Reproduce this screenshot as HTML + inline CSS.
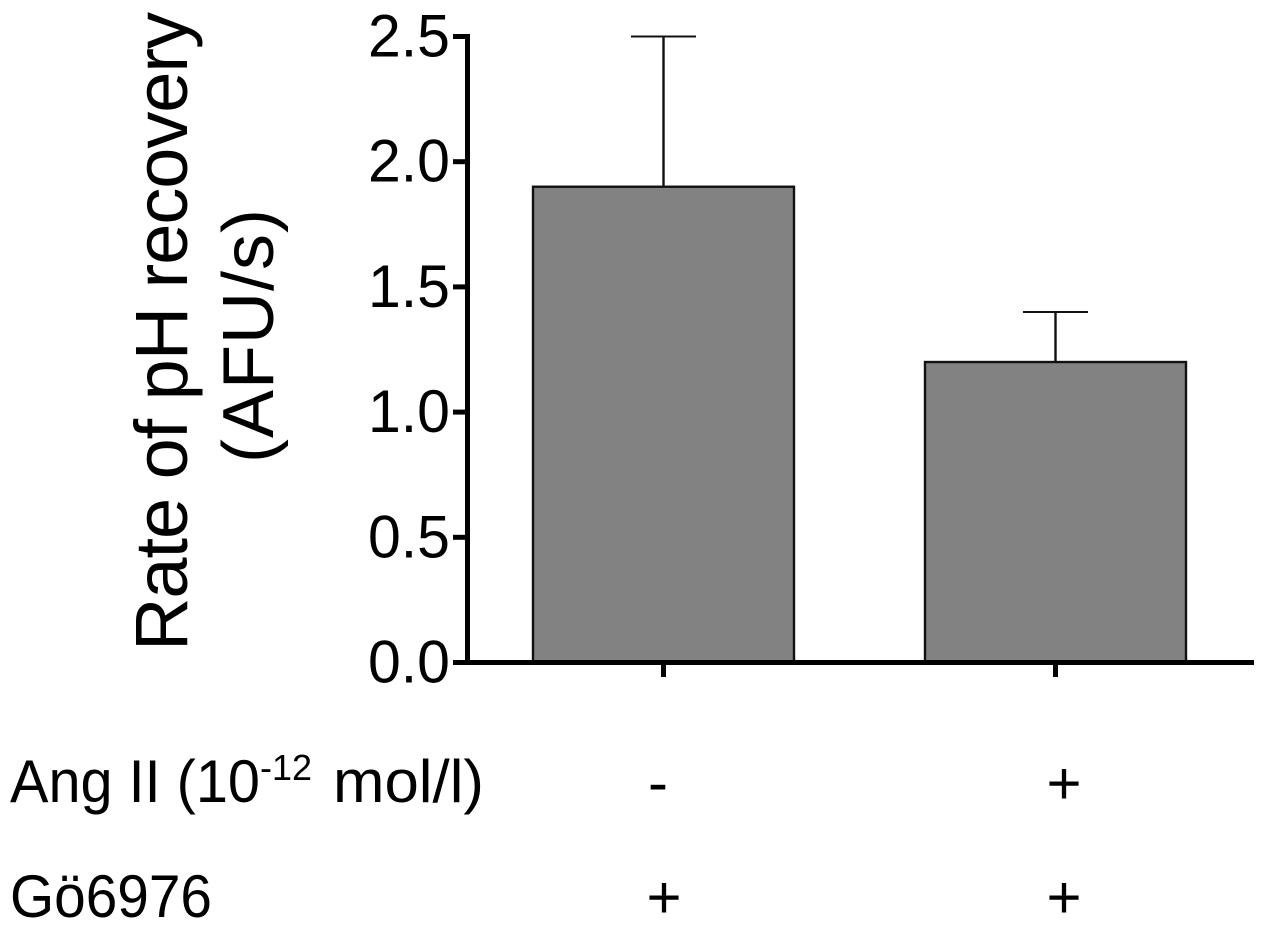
<!DOCTYPE html>
<html>
<head>
<meta charset="utf-8">
<title>Rate of pH recovery</title>
<style>
html,body{margin:0;padding:0;background:#fff;}
svg{display:block;}
text{fill:#000;font-family:"Liberation Sans",sans-serif;}
</style>
</head>
<body>
<svg id="chart" width="1269" height="937" viewBox="0 0 1269 937" xmlns="http://www.w3.org/2000/svg">
  <rect x="0" y="0" width="1269" height="937" fill="#fff"/>
  <g id="marks"></g>
  <text transform="translate(187,651) rotate(-90)" font-size="74" textLength="639" lengthAdjust="spacing">Rate of pH recovery</text>
  <text transform="translate(273,463) rotate(-90)" font-size="72" textLength="254" lengthAdjust="spacing">(AFU/s)</text>
  <g font-size="60">
    <text x="10" y="802" textLength="250" lengthAdjust="spacingAndGlyphs">Ang II (10</text>
    <text x="260" y="780" font-size="36" textLength="52" lengthAdjust="spacingAndGlyphs">-12</text>
    <text x="333" y="802" textLength="151" lengthAdjust="spacingAndGlyphs">mol/l)</text>
    <text x="658" y="803" text-anchor="middle">-</text>
    <text x="1064" y="804" text-anchor="middle">+</text>
  </g>
  <g font-size="60">
    <text x="10" y="917" textLength="202" lengthAdjust="spacingAndGlyphs">Gö6976</text>
    <text x="664" y="918" text-anchor="middle">+</text>
    <text x="1064" y="918" text-anchor="middle">+</text>
  </g>
</svg>
<script>
const categories = ["Ang II − / Gö6976 +", "Ang II + / Gö6976 +"];
const rateValues = [1.9, 1.2];
const errorValues = [0.6, 0.2];
const yTicks = [0, 0.5, 1, 1.5, 2, 2.5];
const yTickLabels = ["0.0", "0.5", "1.0", "1.5", "2.0", "2.5"];

const SVGNS = "http://www.w3.org/2000/svg";
const marks = document.getElementById("marks");
const plotBottom = 662.5, plotTop = 36.5, yMax = 2.5;
const axisX = 467.5, axisEnd = 1254;
const firstCenter = 663.5, categoryStep = 392, barWidth = 261, capHalf = 32.5;
function yScale(v) { return plotBottom - (v / yMax) * (plotBottom - plotTop); }
function xScale(i) { return firstCenter + i * categoryStep; }
function add(tag, attrs) {
  const el = document.createElementNS(SVGNS, tag);
  for (const k in attrs) el.setAttribute(k, attrs[k]);
  marks.appendChild(el);
  return el;
}

categories.forEach(function (cat, i) {
  const cx = xScale(i);
  const top = yScale(rateValues[i]);
  const errTop = yScale(rateValues[i] + errorValues[i]);

  const stem = add("line", {x1: cx, x2: cx, y1: top, y2: errTop, stroke: "#111", "stroke-width": 2.4});
  
  

  const cap = add("line", {x1: cx - capHalf, x2: cx + capHalf, y1: errTop, y2: errTop, stroke: "#111", "stroke-width": 2});
  
  

  const bar = add("rect", {x: cx - barWidth / 2, y: top, width: barWidth, height: plotBottom - top, fill: "#828282", stroke: "#111", "stroke-width": 2.4});
  
  

  const tick = add("line", {x1: cx, x2: cx, y1: plotBottom, y2: 677, stroke: "#000", "stroke-width": 5});
  
  
});

const yAxis = add("line", {x1: axisX, x2: axisX, y1: plotTop - 2.5, y2: plotBottom + 2.5, stroke: "#000", "stroke-width": 5});



const xAxis = add("line", {x1: 453, x2: axisEnd, y1: plotBottom, y2: plotBottom, stroke: "#000", "stroke-width": 5});



yTicks.forEach(function (t, i) {
  const y = yScale(t);
  const tick = add("line", {x1: 453, x2: axisX, y1: y, y2: y, stroke: "#000", "stroke-width": 5});
  
  

  const label = add("text", {x: 450, y: y + 20, "text-anchor": "end", "font-size": 60, textLength: 82, lengthAdjust: "spacingAndGlyphs"});
  label.textContent = yTickLabels[i];
  
  
});
</script>
</body>
</html>
